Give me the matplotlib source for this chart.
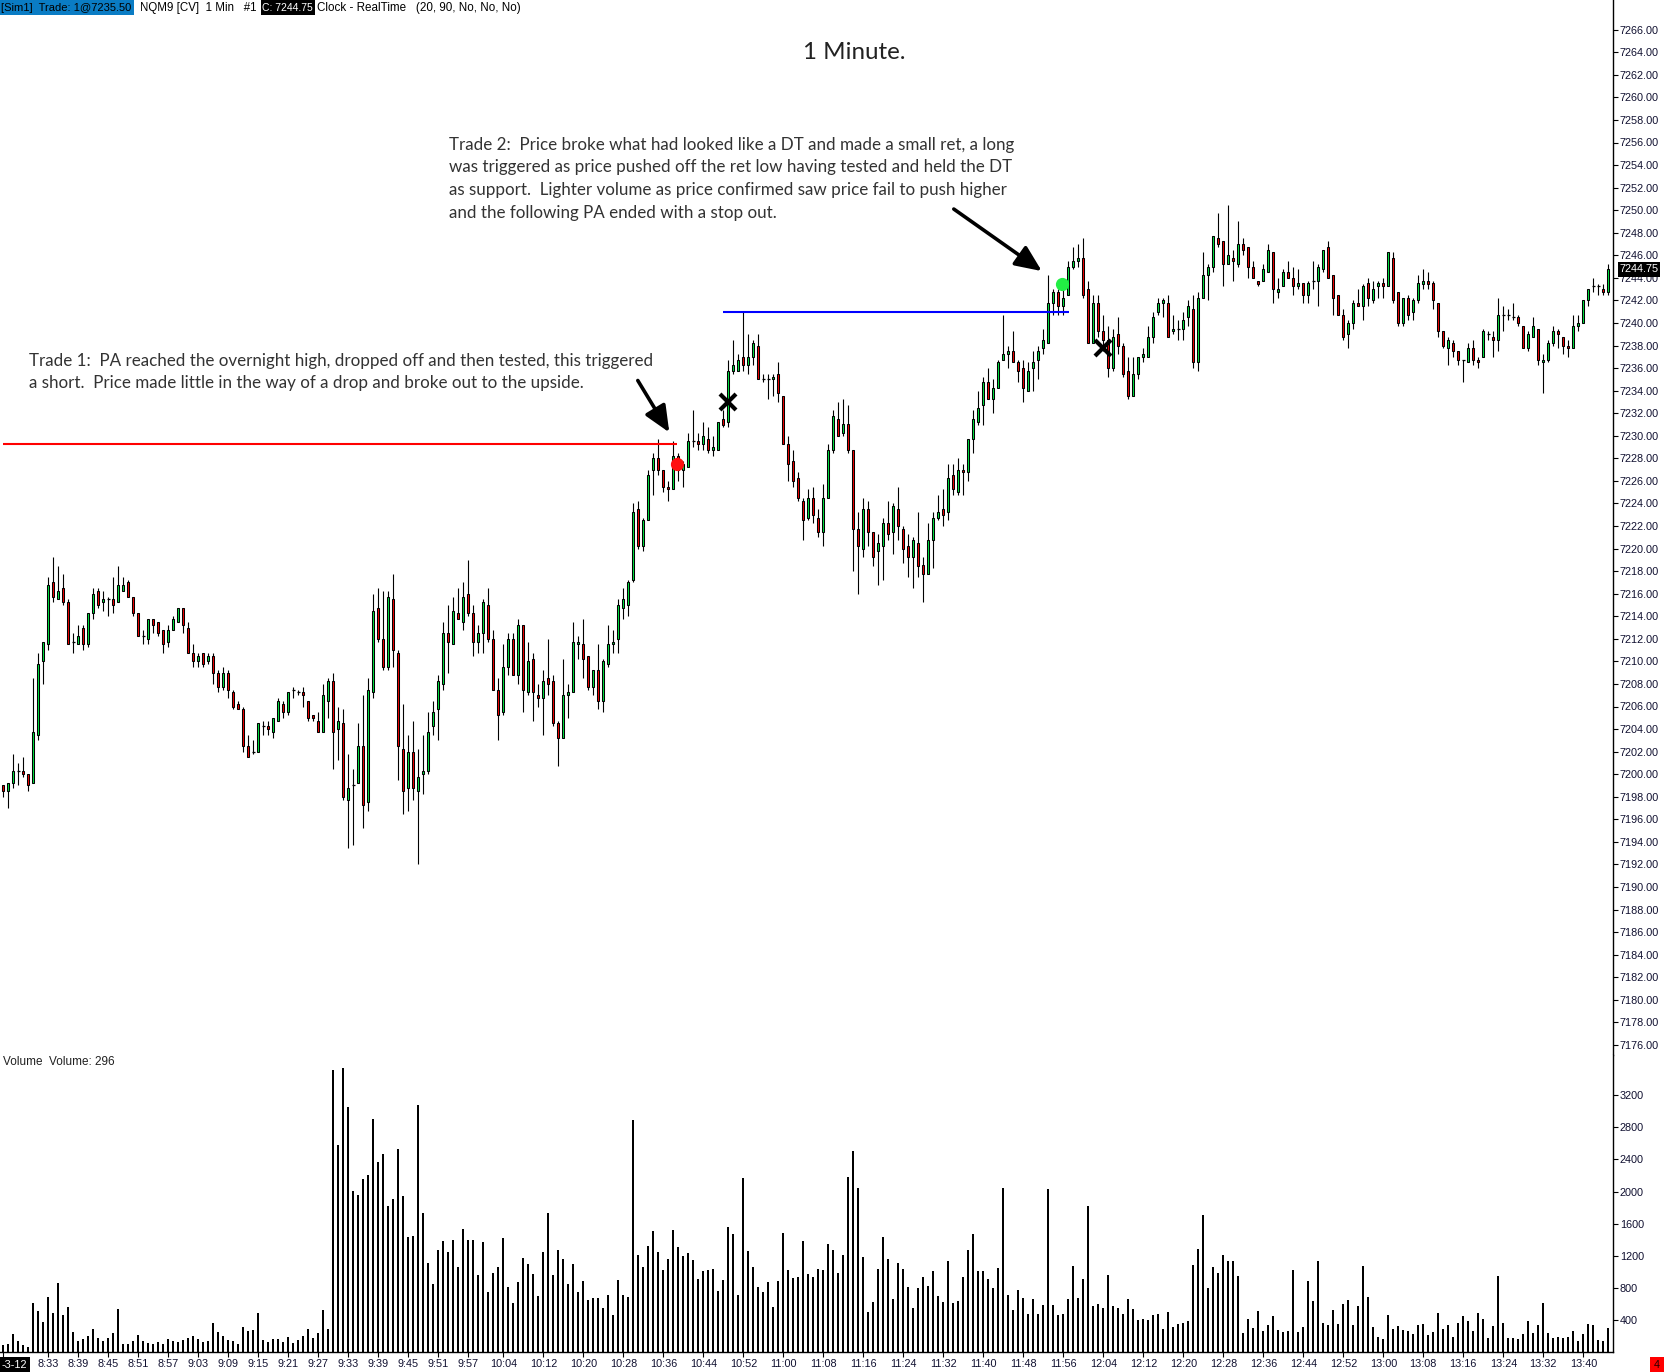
import matplotlib
matplotlib.use("Agg")
import matplotlib.pyplot as plt
from matplotlib.patches import Rectangle
import numpy as np

# ---------------------------------------------------------------- data
SESSION_START = (8, 24)          # time of the first 1-minute bar
SESSION_DATE_TAIL = "-3-12"

opens = [
    7199.0, 7198.5, 7199.25, 7200.25, 7200.25, 7200.0, 7199.25, 7203.5, 7210.0, 7211.5,
    7217.0, 7215.5, 7216.5, 7215.25, 7211.75, 7211.5, 7213.0, 7211.5, 7214.25, 7216.25,
    7215.25, 7215.5, 7215.5, 7215.25, 7216.25, 7217.0, 7215.75, 7214.25, 7212.25, 7212.0,
    7213.75, 7213.5, 7212.75, 7211.75, 7212.75, 7213.5, 7214.75, 7213.0, 7210.75, 7210.0,
    7210.75, 7210.0, 7210.5, 7209.0, 7207.75, 7209.0, 7207.25, 7206.25, 7205.75, 7202.5,
    7202.0, 7202.0, 7204.25, 7204.25, 7203.75, 7204.75, 7206.25, 7205.5, 7207.5, 7207.25,
    7207.25, 7206.5, 7205.25, 7204.75, 7203.75, 7206.5, 7208.25, 7204.0, 7204.5, 7197.75,
    7199.0, 7199.25, 7202.5, 7197.5, 7207.25, 7214.75, 7212.0, 7209.5, 7215.5, 7210.75,
    7202.25, 7198.75, 7202.0, 7198.5, 7200.0, 7200.25, 7204.25, 7205.75, 7208.0, 7212.5,
    7211.5, 7214.25, 7213.5, 7216.0, 7214.25, 7211.75, 7212.5, 7215.0, 7212.0, 7207.5,
    7205.5, 7209.5, 7212.0, 7208.75, 7213.25, 7207.25, 7210.25, 7207.0, 7206.75, 7208.5,
    7208.25, 7204.5, 7203.25, 7207.0, 7207.25, 7211.5, 7211.5, 7210.5, 7207.75, 7209.25,
    7206.5, 7209.75, 7211.5, 7212.0, 7214.75, 7215.0, 7217.25, 7223.5, 7220.25, 7222.5,
    7227.0, 7228.0, 7227.0, 7225.5, 7225.25, 7228.25, 7227.0, 7227.25, 7229.5, 7229.5,
    7229.25, 7229.75, 7228.75, 7228.75, 7231.5, 7231.25, 7235.75, 7235.75, 7237.0, 7236.25,
    7237.0, 7238.0, 7235.0, 7235.0, 7235.0, 7235.5, 7233.5, 7229.25, 7227.75, 7226.25,
    7224.25, 7222.75, 7224.5, 7222.75, 7221.5, 7224.5, 7228.75, 7231.5, 7230.25, 7231.0,
    7228.75, 7221.75, 7220.0, 7223.5, 7221.5, 7219.75, 7220.25, 7222.25, 7221.5, 7223.5,
    7221.75, 7220.25, 7219.25, 7220.5, 7218.5, 7217.75, 7220.75, 7222.75, 7223.5, 7223.25,
    7226.5, 7225.0, 7227.0, 7226.75, 7229.75, 7231.25, 7232.75, 7234.75, 7233.25, 7234.25,
    7236.75, 7237.25, 7237.5, 7236.5, 7236.0, 7234.0, 7236.0, 7236.75, 7237.75, 7238.25,
    7241.75, 7242.75, 7241.5, 7242.5, 7245.0, 7245.5, 7245.75, 7243.0, 7238.25, 7241.75,
    7239.25, 7238.5, 7236.0, 7239.0, 7238.0, 7235.75, 7233.5, 7235.5, 7237.0, 7237.0,
    7238.75, 7241.0, 7241.75, 7241.75, 7239.25, 7239.5, 7239.5, 7240.5, 7241.25, 7236.5,
    7242.25, 7244.25, 7245.0, 7247.5, 7247.25, 7245.25, 7245.75, 7245.25, 7247.0, 7246.75,
    7245.0, 7243.75, 7243.75, 7244.5, 7246.25, 7242.75, 7243.25, 7244.5, 7244.0, 7243.25,
    7243.5, 7242.5, 7243.75, 7243.75, 7244.75, 7246.75, 7244.25, 7242.5, 7240.75, 7239.0,
    7240.0, 7241.75, 7241.5, 7243.5, 7242.0, 7243.25, 7243.5, 7243.25, 7245.75, 7242.75,
    7240.0, 7242.25, 7241.0, 7242.0, 7243.5, 7243.75, 7243.5, 7241.75, 7239.25, 7237.75,
    7238.25, 7237.5, 7236.75, 7236.5, 7237.75, 7236.75, 7237.0, 7239.0, 7238.75, 7238.5,
    7240.75, 7240.75, 7240.5, 7240.5, 7239.75, 7237.75, 7238.75, 7239.5, 7236.5, 7236.75,
    7238.25, 7239.25, 7238.75, 7238.0, 7237.75, 7239.75, 7240.0, 7242.0, 7243.25, 7243.25,
    7243.0, 7242.75,
]
highs = [
    7199.0, 7199.25, 7201.75, 7201.0, 7201.5, 7200.0, 7208.5, 7210.75, 7211.75, 7217.5,
    7219.25, 7218.5, 7217.75, 7215.5, 7212.5, 7213.25, 7213.25, 7214.25, 7216.5, 7216.5,
    7216.25, 7215.75, 7217.5, 7218.5, 7217.5, 7217.25, 7215.75, 7214.25, 7212.75, 7213.75,
    7213.75, 7213.5, 7212.75, 7213.25, 7214.0, 7214.75, 7214.75, 7213.5, 7211.5, 7210.75,
    7210.75, 7210.75, 7210.75, 7209.25, 7209.5, 7209.25, 7207.5, 7206.5, 7206.0, 7203.5,
    7203.0, 7204.5, 7204.75, 7204.75, 7205.0, 7206.75, 7206.5, 7207.25, 7207.75, 7207.5,
    7207.75, 7206.5, 7205.25, 7205.5, 7208.0, 7208.5, 7209.0, 7206.0, 7205.75, 7201.75,
    7200.5, 7204.5, 7207.0, 7208.5, 7216.0, 7216.5, 7216.25, 7216.25, 7217.75, 7211.0,
    7206.25, 7203.5, 7204.75, 7202.25, 7203.5, 7205.5, 7206.5, 7208.75, 7213.5, 7215.0,
    7215.75, 7216.5, 7217.0, 7219.0, 7215.0, 7213.25, 7215.5, 7216.5, 7212.75, 7208.5,
    7211.5, 7212.5, 7212.5, 7213.75, 7213.25, 7211.75, 7210.75, 7208.0, 7209.25, 7212.0,
    7208.75, 7204.75, 7210.25, 7208.0, 7213.5, 7212.25, 7213.75, 7210.5, 7209.25, 7211.5,
    7210.25, 7213.25, 7212.75, 7215.5, 7216.5, 7217.25, 7224.0, 7224.25, 7222.75, 7227.0,
    7228.5, 7229.75, 7227.0, 7226.0, 7229.5, 7228.5, 7227.75, 7230.25, 7232.25, 7230.25,
    7231.25, 7230.75, 7230.0, 7231.25, 7232.25, 7236.75, 7238.5, 7237.25, 7241.0, 7239.0,
    7238.5, 7239.0, 7235.5, 7235.5, 7235.5, 7236.5, 7233.5, 7230.0, 7228.75, 7226.75,
    7224.5, 7225.25, 7225.5, 7223.5, 7225.75, 7229.25, 7232.25, 7233.0, 7233.25, 7232.75,
    7228.75, 7223.25, 7224.5, 7224.25, 7221.5, 7221.25, 7222.75, 7224.25, 7224.0, 7225.5,
    7222.0, 7221.25, 7221.0, 7223.25, 7219.25, 7222.25, 7223.25, 7224.75, 7225.25, 7227.5,
    7227.5, 7228.0, 7227.5, 7229.75, 7232.25, 7234.0, 7235.25, 7236.0, 7235.0, 7236.75,
    7240.75, 7238.0, 7239.25, 7236.75, 7236.75, 7236.5, 7237.5, 7238.0, 7239.5, 7244.25,
    7243.0, 7243.0, 7243.0, 7245.5, 7246.75, 7247.0, 7247.5, 7243.75, 7242.5, 7242.5,
    7240.75, 7239.75, 7239.5, 7240.5, 7238.25, 7237.0, 7237.0, 7237.0, 7237.75, 7239.75,
    7241.0, 7242.25, 7242.25, 7242.5, 7240.75, 7240.25, 7241.0, 7242.0, 7242.5, 7242.75,
    7246.25, 7245.25, 7247.75, 7249.75, 7247.25, 7250.5, 7246.5, 7249.0, 7247.5, 7246.75,
    7245.5, 7243.75, 7245.25, 7247.0, 7246.25, 7244.0, 7244.75, 7245.5, 7245.0, 7244.75,
    7243.5, 7243.75, 7245.5, 7245.25, 7246.5, 7247.25, 7244.25, 7242.5, 7241.25, 7240.25,
    7242.0, 7243.0, 7243.5, 7244.0, 7243.75, 7243.75, 7244.0, 7246.25, 7246.25, 7242.75,
    7242.25, 7242.5, 7242.25, 7244.25, 7244.75, 7244.5, 7243.75, 7241.75, 7239.25, 7238.75,
    7238.5, 7237.5, 7236.75, 7238.25, 7238.5, 7237.0, 7239.5, 7239.25, 7239.25, 7242.25,
    7241.5, 7241.25, 7241.75, 7240.75, 7239.75, 7239.25, 7240.5, 7239.5, 7237.25, 7238.5,
    7239.75, 7239.5, 7238.75, 7238.5, 7240.75, 7240.75, 7242.0, 7243.0, 7244.0, 7243.5,
    7243.5, 7245.25,
]
lows = [
    7198.0, 7197.0, 7198.75, 7199.0, 7199.75, 7198.5, 7199.25, 7203.0, 7208.0, 7211.0,
    7215.25, 7215.5, 7215.0, 7211.5, 7210.75, 7211.5, 7211.0, 7211.25, 7213.75, 7214.75,
    7214.5, 7214.0, 7214.25, 7215.25, 7216.25, 7215.75, 7214.0, 7212.25, 7211.5, 7211.5,
    7212.5, 7212.25, 7210.75, 7211.25, 7212.75, 7213.5, 7212.5, 7210.75, 7209.5, 7209.5,
    7209.5, 7209.75, 7208.0, 7207.25, 7207.5, 7206.75, 7205.75, 7205.75, 7202.0, 7201.5,
    7201.75, 7202.0, 7203.5, 7203.5, 7203.25, 7204.75, 7205.0, 7205.25, 7206.75, 7207.0,
    7206.0, 7204.75, 7204.75, 7203.75, 7203.75, 7205.0, 7200.5, 7201.25, 7197.75, 7193.5,
    7193.75, 7199.25, 7195.25, 7196.75, 7206.75, 7211.75, 7209.25, 7209.25, 7209.5, 7199.5,
    7196.5, 7196.75, 7197.75, 7192.0, 7198.25, 7200.0, 7203.5, 7203.0, 7207.5, 7209.0,
    7211.5, 7213.75, 7212.75, 7214.0, 7210.5, 7210.75, 7210.75, 7211.75, 7207.5, 7203.0,
    7205.25, 7208.75, 7208.75, 7208.0, 7205.5, 7207.0, 7204.75, 7206.0, 7203.5, 7207.0,
    7204.25, 7200.75, 7203.25, 7205.0, 7207.25, 7210.25, 7208.5, 7207.5, 7207.0, 7205.75,
    7205.5, 7209.5, 7210.75, 7210.75, 7213.75, 7214.0, 7217.0, 7220.0, 7219.75, 7222.5,
    7224.75, 7226.5, 7225.0, 7224.25, 7225.25, 7226.0, 7225.5, 7227.25, 7229.0, 7228.75,
    7228.75, 7228.5, 7228.25, 7228.75, 7230.75, 7230.75, 7235.5, 7235.75, 7235.75, 7235.5,
    7236.25, 7235.0, 7234.75, 7233.25, 7233.5, 7233.0, 7229.25, 7226.0, 7225.5, 7224.25,
    7220.75, 7222.5, 7222.25, 7221.0, 7220.25, 7224.5, 7228.5, 7230.0, 7230.0, 7228.5,
    7218.0, 7216.0, 7219.25, 7220.25, 7218.5, 7216.75, 7217.25, 7220.75, 7219.5, 7220.75,
    7218.75, 7217.5, 7216.5, 7217.5, 7215.25, 7217.75, 7218.25, 7222.5, 7222.0, 7222.5,
    7224.75, 7224.75, 7224.75, 7226.0, 7228.5, 7231.0, 7231.0, 7233.25, 7232.0, 7234.25,
    7236.75, 7236.0, 7236.5, 7234.75, 7233.0, 7234.0, 7234.0, 7235.0, 7237.25, 7238.25,
    7240.75, 7240.75, 7240.75, 7242.5, 7244.75, 7245.0, 7242.25, 7238.25, 7238.25, 7238.75,
    7237.5, 7235.25, 7235.75, 7237.25, 7235.25, 7233.25, 7233.5, 7235.0, 7236.5, 7237.0,
    7238.25, 7240.75, 7240.5, 7238.75, 7239.0, 7238.5, 7238.5, 7239.75, 7236.0, 7235.75,
    7242.25, 7242.0, 7244.5, 7246.75, 7243.25, 7245.25, 7243.75, 7245.0, 7246.0, 7244.0,
    7244.0, 7243.25, 7243.75, 7244.5, 7241.75, 7242.25, 7243.25, 7244.0, 7242.5, 7243.0,
    7241.75, 7241.75, 7243.0, 7241.5, 7244.5, 7244.0, 7240.75, 7240.75, 7238.5, 7237.75,
    7239.5, 7241.5, 7240.25, 7241.5, 7241.75, 7242.25, 7242.25, 7243.25, 7241.75, 7239.75,
    7239.75, 7240.25, 7240.25, 7241.75, 7243.0, 7243.0, 7241.25, 7238.75, 7237.75, 7236.25,
    7237.0, 7236.25, 7234.75, 7236.5, 7236.25, 7236.0, 7237.0, 7238.5, 7237.0, 7237.5,
    7239.25, 7240.25, 7240.25, 7239.75, 7237.75, 7237.5, 7238.75, 7236.25, 7233.75, 7236.5,
    7238.0, 7237.75, 7237.25, 7237.0, 7237.75, 7239.25, 7240.0, 7241.5, 7242.75, 7242.5,
    7242.5, 7242.5,
]
closes = [
    7198.5, 7199.25, 7200.25, 7200.25, 7200.0, 7199.0, 7203.75, 7209.75, 7211.75, 7216.75,
    7215.75, 7216.25, 7215.25, 7211.5, 7211.75, 7212.25, 7211.5, 7214.25, 7216.0, 7215.0,
    7215.5, 7215.5, 7215.0, 7216.75, 7216.75, 7215.75, 7214.25, 7212.25, 7212.25, 7213.75,
    7213.25, 7212.5, 7211.5, 7212.75, 7213.75, 7214.75, 7213.25, 7210.75, 7210.0, 7210.5,
    7209.75, 7210.5, 7209.0, 7207.75, 7209.0, 7207.5, 7206.0, 7205.75, 7202.5, 7201.5,
    7202.0, 7204.5, 7204.25, 7204.0, 7205.0, 7206.5, 7205.5, 7207.25, 7207.5, 7207.25,
    7207.0, 7205.0, 7205.0, 7203.75, 7207.0, 7208.25, 7203.75, 7204.75, 7198.0, 7198.75,
    7199.0, 7202.5, 7197.25, 7207.5, 7214.5, 7212.0, 7209.5, 7215.75, 7211.0, 7202.5,
    7198.5, 7202.0, 7198.75, 7199.75, 7200.25, 7203.75, 7205.5, 7208.25, 7212.5, 7211.75,
    7214.5, 7213.75, 7215.75, 7214.25, 7211.75, 7212.5, 7215.25, 7212.0, 7207.5, 7205.25,
    7209.5, 7212.0, 7208.75, 7213.25, 7207.5, 7210.0, 7207.25, 7206.75, 7208.25, 7208.0,
    7204.5, 7203.25, 7207.0, 7207.25, 7211.75, 7211.75, 7210.25, 7207.75, 7209.25, 7206.5,
    7210.0, 7211.5, 7211.75, 7215.0, 7215.5, 7217.0, 7223.25, 7220.25, 7222.5, 7226.5,
    7228.0, 7227.0, 7225.5, 7225.25, 7228.25, 7227.0, 7227.5, 7229.5, 7229.5, 7229.25,
    7230.0, 7228.75, 7229.0, 7231.25, 7231.0, 7235.75, 7236.25, 7236.75, 7236.25, 7237.0,
    7238.25, 7235.0, 7235.0, 7235.0, 7235.25, 7233.75, 7229.25, 7227.5, 7226.0, 7224.5,
    7222.5, 7224.5, 7223.0, 7221.5, 7224.5, 7228.75, 7231.75, 7230.0, 7231.0, 7228.75,
    7221.75, 7220.25, 7223.5, 7221.5, 7219.25, 7220.5, 7222.25, 7221.25, 7223.75, 7222.0,
    7220.0, 7219.25, 7220.75, 7218.5, 7217.75, 7220.75, 7222.75, 7223.25, 7223.0, 7226.25,
    7225.25, 7227.0, 7226.75, 7229.75, 7231.5, 7232.5, 7234.75, 7233.25, 7234.25, 7236.5,
    7237.25, 7237.5, 7236.5, 7235.75, 7234.25, 7235.75, 7236.5, 7237.5, 7238.5, 7241.75,
    7242.75, 7241.5, 7242.25, 7245.0, 7245.5, 7245.75, 7242.5, 7238.25, 7241.75, 7239.25,
    7238.5, 7236.0, 7238.75, 7238.0, 7235.5, 7233.5, 7235.5, 7237.0, 7237.25, 7238.75,
    7240.5, 7241.75, 7242.0, 7238.75, 7239.5, 7239.5, 7240.25, 7241.5, 7236.5, 7242.25,
    7244.25, 7245.0, 7247.75, 7247.0, 7245.25, 7246.0, 7245.5, 7247.0, 7246.5, 7245.0,
    7244.0, 7243.5, 7244.75, 7246.5, 7243.0, 7243.0, 7244.5, 7244.0, 7243.25, 7243.5,
    7242.5, 7243.5, 7243.75, 7245.0, 7246.5, 7244.0, 7242.25, 7240.75, 7238.75, 7240.0,
    7241.75, 7241.5, 7243.25, 7242.25, 7243.0, 7243.5, 7243.25, 7246.25, 7242.0, 7240.0,
    7242.25, 7240.75, 7242.0, 7243.5, 7243.75, 7243.5, 7242.0, 7239.25, 7238.0, 7238.5,
    7237.5, 7236.75, 7236.75, 7237.75, 7236.75, 7236.5, 7239.25, 7239.0, 7238.5, 7240.75,
    7240.75, 7240.75, 7240.5, 7240.0, 7237.75, 7239.0, 7239.75, 7236.75, 7236.75, 7238.25,
    7239.25, 7239.0, 7238.0, 7237.75, 7239.75, 7240.0, 7242.0, 7243.0, 7243.25, 7243.25,
    7242.75, 7244.75,
]
volumes = [
    83, 96, 220, 133, 83, 58, 606, 507, 370, 681,
    482, 856, 457, 556, 245, 133, 158, 195, 282, 170,
    133, 170, 233, 532, 96, 96, 133, 208, 133, 108,
    96, 120, 96, 158, 133, 120, 145, 170, 195, 158,
    120, 133, 357, 245, 195, 145, 133, 96, 307, 257,
    270, 482, 145, 120, 158, 158, 120, 183, 108, 145,
    195, 282, 170, 233, 519, 282, 3509, 2575, 3534, 3048,
    2002, 1952, 2151, 2201, 2899, 2363, 2463, 1815, 1902, 2525,
    1939, 1429, 1441, 3073, 1728, 1105, 843, 1267, 1379, 1242,
    1391, 1055, 1528, 1391, 1391, 955, 1366, 743, 980, 1055,
    1416, 806, 606, 868, 1167, 1092, 968, 694, 1242, 1728,
    955, 1267, 1155, 843, 1092, 743, 880, 644, 669, 669,
    544, 706, 457, 893, 706, 681, 2886, 1204, 1055, 1317,
    1503, 1242, 1017, 1155, 1516, 1304, 1192, 1229, 1142, 905,
    1005, 1017, 1030, 756, 893, 1553, 1466, 706, 2164, 1254,
    1055, 806, 743, 868, 556, 880, 1478, 1017, 918, 930,
    1379, 968, 930, 1030, 1017, 1341, 1267, 980, 1204, 2176,
    2500, 2039, 1179, 494, 619, 1030, 1429, 1155, 656, 1105,
    1030, 806, 544, 793, 930, 818, 1005, 694, 619, 1130,
    606, 631, 930, 1267, 1466, 1005, 1005, 905, 793, 1042,
    2039, 706, 519, 768, 669, 469, 656, 469, 581, 2027,
    581, 457, 469, 656, 1067, 669, 905, 1815, 569, 594,
    544, 955, 569, 544, 469, 656, 532, 395, 407, 395,
    457, 469, 282, 494, 307, 345, 357, 382, 1080, 1279,
    1703, 793, 1055, 980, 1204, 1130, 1130, 943, 233, 407,
    295, 507, 257, 332, 444, 270, 245, 257, 1017, 245,
    307, 880, 631, 1130, 357, 332, 519, 345, 594, 644,
    332, 569, 1067, 681, 307, 183, 158, 457, 282, 320,
    270, 257, 220, 332, 345, 208, 245, 482, 282, 332,
    183, 357, 444, 382, 257, 482, 407, 170, 320, 943,
    357, 170, 170, 158, 220, 382, 233, 332, 606, 233,
    170, 183, 170, 183, 257, 133, 220, 345, 332, 145,
    133, 296,
]
time_labels = [
    "8:33", "8:39", "8:45", "8:51", "8:57", "9:03", "9:09", "9:15", "9:21", "9:27",
    "9:33", "9:39", "9:45", "9:51", "9:57", "10:04", "10:12", "10:20", "10:28", "10:36",
    "10:44", "10:52", "11:00", "11:08", "11:16", "11:24", "11:32", "11:40", "11:48", "11:56",
    "12:04", "12:12", "12:20", "12:28", "12:36", "12:44", "12:52", "13:00", "13:08", "13:16",
    "13:24", "13:32", "13:40",
]
price_ticks = list(range(7176, 7267, 2))
volume_ticks = [400, 800, 1200, 1600, 2000, 2400, 2800, 3200]

# trade levels and executions
overnight_high = 7229.25
double_top = 7241.0
short_entry = (134.8, 7227.5)
short_exit = (145.0, 7233.0)
long_entry = (211.7, 7243.5)
long_exit = (220.0, 7237.75)

header_account = "[Sim1]  Trade: 1@7235.50"
header_instrument = "NQM9 [CV]  1 Min   #1"
header_close = "C: 7244.75"
header_clock = "Clock - RealTime   (20, 90, No, No, No)"

trade1_lines = [
    "Trade 1:  PA reached the overnight high, dropped off and then tested, this triggered",
    "a short.  Price made little in the way of a drop and broke out to the upside.",
]
trade2_lines = [
    "Trade 2:  Price broke what had looked like a DT and made a small ret, a long",
    "was triggered as price pushed off the ret low having tested and held the DT",
    "as support.  Lighter volume as price confirmed saw price fail to push higher",
    "and the following PA ended with a stop out.",
]

# ---------------------------------------------------------------- layout
W, H, DPI = 1664, 1372, 100
AX_RIGHT = 1613
PRICE_BOTTOM = 1055
VOL_BASE = 1352
PX_PER_BAR = 5.0
FIRST_BAR_X = 3.3

GREEN = "#00E040"
RED = "#EE0000"
LABEL_COLOR = "#101030"
AX_FONT = "Liberation Sans"
AX_SIZE = 7.8

fig = plt.figure(figsize=(W / DPI, H / DPI), dpi=DPI)
fig.patch.set_facecolor("white")
renderer = fig.canvas.get_renderer()


def px_rect(x0, y0, x1, y1):
    return [x0 / W, 1 - y1 / H, (x1 - x0) / W, (y1 - y0) / H]


def fitted_size(text, family, target_px, ref=12.0):
    t = fig.text(0, 0, text, fontsize=ref, family=family)
    w = t.get_window_extent(renderer).width
    t.remove()
    return ref * target_px / w


axp = fig.add_axes(px_rect(0, 0, AX_RIGHT, PRICE_BOTTOM))
axv = fig.add_axes(px_rect(0, PRICE_BOTTOM, AX_RIGHT, VOL_BASE))

n = len(closes)
idx = np.arange(n)
x_left = (0 - FIRST_BAR_X) / PX_PER_BAR
x_right = (AX_RIGHT - FIRST_BAR_X) / PX_PER_BAR

o = np.array(opens); h = np.array(highs); l = np.array(lows); c = np.array(closes)

# price panel scale: 7266 sits at y=29.7px, 11.28px per point
PX_PER_PT = 11.28
p_top = 7266 + 29.7 / PX_PER_PT
p_bot = 7266 - (PRICE_BOTTOM - 29.7) / PX_PER_PT

for ax in (axp, axv):
    ax.set_xlim(x_left, x_right)
    ax.set_facecolor("white")
    for s in ("top", "left", "bottom", "right"):
        ax.spines[s].set_visible(False)
    ax.spines["right"].set_visible(True)
    ax.spines["right"].set_color("black")
    ax.spines["right"].set_linewidth(1.0)
    ax.yaxis.tick_right()
    ax.tick_params(axis="y", direction="out", length=3.5, width=0.8, pad=1.5,
                   labelsize=AX_SIZE, labelcolor=LABEL_COLOR, colors="black")

axp.set_ylim(p_bot, p_top)

# candles: wicks, bodies and dojis
axp.vlines(idx, l, h, color="black", linewidth=0.8, zorder=2)
up = c > o
dn = c < o
flat = c == o
axp.bar(idx[up], (c - o)[up], bottom=o[up], width=0.42, color=GREEN,
        edgecolor="black", linewidth=0.75, zorder=3)
axp.bar(idx[dn], (o - c)[dn], bottom=c[dn], width=0.42, color=RED,
        edgecolor="black", linewidth=0.75, zorder=3)
axp.hlines(c[flat], idx[flat] - 0.32, idx[flat] + 0.32, color="black",
           linewidth=0.9, zorder=3)

axp.set_yticks(price_ticks)
axp.set_yticklabels([f"{p:.2f}" for p in price_ticks], family=AX_FONT)
axp.set_xticks([])

# horizontal levels
axp.hlines(overnight_high, 0, short_entry[0], color="#FF0000", linewidth=1.5, zorder=4)
axp.hlines(double_top, 144.0, 213.1, color="#0000FF", linewidth=1.5, zorder=4)

# executions
axp.plot(*short_entry, marker="o", markersize=8.5, color="#FF1010", zorder=6)
axp.plot(*long_entry, marker="o", markersize=8.5, color="#22EE44", zorder=6)
for pt in (short_exit, long_exit):
    axp.plot(*pt, marker="x", markersize=11, markeredgewidth=3.0, color="black", zorder=6)

# arrows pointing at the entries
arrow_kw = dict(arrowstyle="-|>,head_length=0.5,head_width=0.22", color="black",
                lw=2.6, mutation_scale=32, shrinkA=0, shrinkB=0)
axp.annotate("", xy=(133.2, 7230.3), xytext=(126.9, 7234.9), arrowprops=arrow_kw, zorder=7)
axp.annotate("", xy=(207.7, 7244.6), xytext=(190.1, 7250.1), arrowprops=arrow_kw, zorder=7)

# last price marker on the price scale
last = closes[-1]
y_last = (p_top - last) / (p_top - p_bot) * PRICE_BOTTOM
fig.patches.append(Rectangle((1618 / W, 1 - (y_last + 7.5) / H), 42 / W, 15 / H,
                             transform=fig.transFigure, facecolor="black",
                             edgecolor="none", zorder=10))
fig.text(1619 / W, 1 - y_last / H, f"{last:.2f}", color="white", family=AX_FONT,
         fontsize=AX_SIZE, ha="left", va="center", zorder=11)

# volume panel
axv.set_ylim(0, (VOL_BASE - PRICE_BOTTOM) / 0.08025)
axv.bar(idx, volumes, width=0.42, color="black", linewidth=0, zorder=2)
axv.set_yticks(volume_ticks)
axv.set_yticklabels([str(v) for v in volume_ticks], family=AX_FONT)
axv.spines["bottom"].set_visible(True)
axv.spines["bottom"].set_color("black")
axv.spines["bottom"].set_linewidth(1.0)


def bar_index(label):
    hh, mm = map(int, label.split(":"))
    return (hh * 60 + mm) - (SESSION_START[0] * 60 + SESSION_START[1])


xt = [0] + [bar_index(t) for t in time_labels]
axv.set_xticks(xt)
axv.set_xticklabels([""] + time_labels, family=AX_FONT)
axv.tick_params(axis="x", direction="out", length=3.5, width=0.8, pad=1.5,
                labelsize=AX_SIZE, labelcolor=LABEL_COLOR, colors="black")

vol_text = f"Volume  Volume: {volumes[-1]}"
fig.text(3 / W, 1 - 1062 / H, vol_text, family=AX_FONT,
         fontsize=fitted_size(vol_text, AX_FONT, 111), color="#202020",
         ha="left", va="center")

# date stamp, bottom-left
fig.patches.append(Rectangle((0, 1 - 1372 / H), 29.5 / W, 15 / H, transform=fig.transFigure,
                             facecolor="black", edgecolor="none", zorder=10))
fig.text(1.5 / W, 1 - 1364.5 / H, SESSION_DATE_TAIL, color="white", family=AX_FONT,
         fontsize=AX_SIZE, ha="left", va="center", zorder=11)
# bar countdown box, bottom-right
fig.patches.append(Rectangle((1650 / W, 1 - 1372 / H), 13.5 / W, 15 / H, transform=fig.transFigure,
                             facecolor="#FF0000", edgecolor="none", zorder=10))
fig.text(1656.8 / W, 1 - 1364.5 / H, "4", color="#200000", family=AX_FONT,
         fontsize=AX_SIZE, ha="center", va="center", zorder=11)

# header strip: each segment sized to its slot
fig.patches.append(Rectangle((0, 1 - 15 / H), 134 / W, 15 / H, transform=fig.transFigure,
                             facecolor="#0A7CC4", edgecolor="none", zorder=10))
fig.patches.append(Rectangle((260.5 / W, 1 - 15 / H), 54 / W, 15 / H, transform=fig.transFigure,
                             facecolor="black", edgecolor="none", zorder=10))
header_parts = [
    (header_account, 1.0, 130.0, "black"),
    (header_instrument, 139.5, 116.0, "black"),
    (header_close, 262.0, 50.5, "white"),
    (header_clock, 317.0, 202.0, "black"),
]
for text, x0, width, color in header_parts:
    size = min(fitted_size(text, AX_FONT, width), 8.6)
    fig.text(x0 / W, 1 - 8 / H, text, color=color, family=AX_FONT, fontsize=size,
             ha="left", va="center", zorder=11)

# title and commentary
NOTE_FONT = "Lato"
NOTE_COLOR = "#333333"
title_size = fitted_size("1 Minute.", NOTE_FONT, 102)
fig.text(854 / W, 1 - 59 / H, "1 Minute.", family=NOTE_FONT, fontsize=title_size,
         color="#222222", ha="center", va="baseline")

note_size = 0.5 * (fitted_size(trade1_lines[0], NOTE_FONT, 621)
                   + fitted_size(trade2_lines[0], NOTE_FONT, 562))
for k, line in enumerate(trade1_lines):
    fig.text(28.7 / W, 1 - (365.7 + 22.6 * k) / H, line, family=NOTE_FONT,
             fontsize=note_size, color=NOTE_COLOR, ha="left", va="baseline")
for k, line in enumerate(trade2_lines):
    fig.text(449 / W, 1 - (149.8 + 22.6 * k) / H, line, family=NOTE_FONT,
             fontsize=note_size, color=NOTE_COLOR, ha="left", va="baseline")

fig.savefig("out.png", dpi=DPI, facecolor="white")
